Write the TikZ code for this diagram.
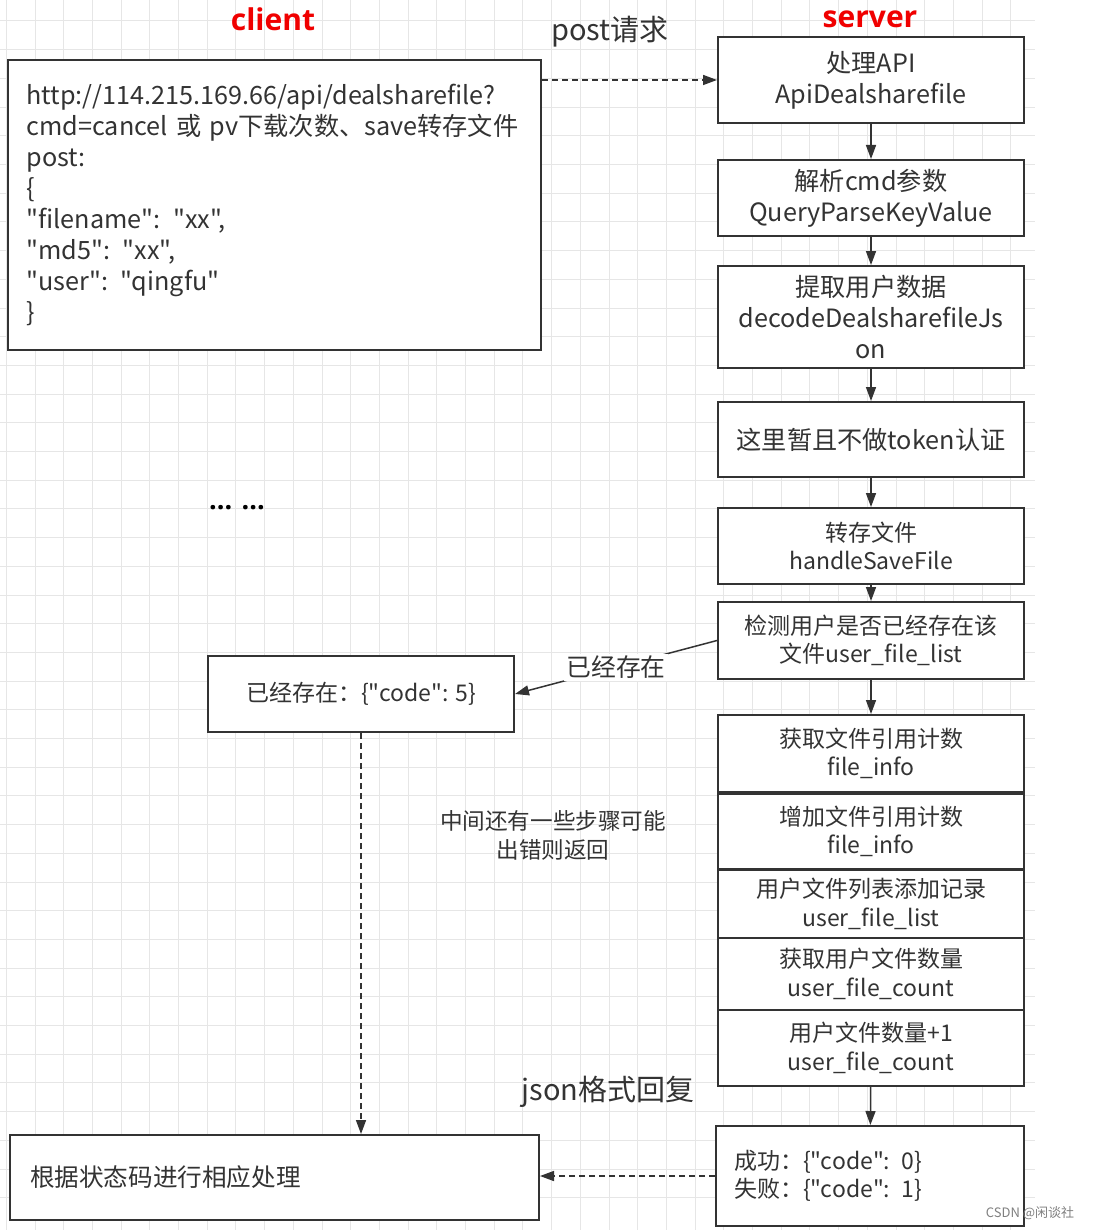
\documentclass[tikz,border=0pt]{standalone}
\usepackage{fontspec}
\usepackage{xcolor}
\usepackage{tikz}
\usetikzlibrary{arrows.meta}
\setmainfont{Noto Sans CJK SC}[Ligatures=TeXOff]
\newfontfamily\headfont{Open Sans}
\definecolor{ink}{HTML}{333333}
\definecolor{gridc}{HTML}{E6E6E6}
\definecolor{headred}{HTML}{F00000}
\newcommand{\dq}{\char34\relax}

\begin{document}
\begin{tikzpicture}[x=0.5pt, y=-0.5pt, line cap=butt, line join=miter,
  box/.style={draw=ink, line width=1pt, fill=white, text=ink, inner sep=0pt},
  srv/.style={box, minimum width=153pt, align=center},
  arr/.style={draw=ink, line width=0.75pt, -{Triangle[length=7pt,width=5pt]}},
  darr/.style={arr, dash pattern=on 3pt off 2pt},
  big/.style={font=\fontsize{12.6pt}{15.5pt}\selectfont},
  mid/.style={font=\fontsize{11.5pt}{14.2pt}\selectfont},
  head/.style={text=headred, font=\headfont\bfseries\fontsize{15pt}{17pt}\selectfont}]

\useasboundingbox (0,0) rectangle (1094,1230);
\fill[white] (0,0) rectangle (1094,1230);

% grid
\foreach \i in {0,...,35}
  \draw[gridc, line width=0.5pt] ({6.3+28.7*\i},0) -- ({6.3+28.7*\i},1230);
\foreach \j in {0,...,42}
  \draw[gridc, line width=0.5pt] (0,{-7.7+28.7*\j}) -- (1035,{-7.7+28.7*\j});

% headings
\node[head] (hclient) at (273,19) {client};
\node[head] (hserver) at (870,19) {server};

% client side
\node[box, big, minimum width=266.5pt, minimum height=145pt, text width=248pt, align=left] (client) at (274.5,205)
  {http://114.215.169.66/api/dealsharefile?\\
   cmd=cancel 或 pv下载次数、save转存文件\\
   post:\\
   \{\\
   \dq filename\dq: \dq xx\dq,\\
   \dq md5\dq: \dq xx\dq,\\
   \dq user\dq: \dq qingfu\dq\\
   \}};

\node[box, mid, minimum width=153pt, minimum height=38pt] (exist) at (361,694) {已经存在：\{\dq code\dq: 5\}};

\node[box, font=\fontsize{12.3pt}{14pt}\selectfont, minimum width=264.5pt, minimum height=42.5pt, text width=244.5pt, align=left] (final) at (274.5,1177.5) {根据状态码进行相应处理};

% server side
\node[srv, big, minimum height=43pt] (s1) at (871,80) {处理API\\ApiDealsharefile};
\node[srv, big, minimum height=38pt] (s2) at (871,198) {解析cmd参数\\QueryParseKeyValue};
\node[srv, big, minimum height=51pt] (s3) at (871,317) {提取用户数据\\decodeDealsharefileJs\\on};
\node[srv, big, minimum height=37.5pt] (s4) at (871,439.5) {这里暂且不做token认证};
\node[srv, mid, minimum height=38pt] (s5) at (871,546) {转存文件\\handleSaveFile};
\node[srv, mid, minimum height=38.5pt] (s6) at (871,640.5) {检测用户是否已经存在该\\文件user\_file\_list};
\node[srv, mid, minimum height=38.5pt] (s7) at (871,753.5) {获取文件引用计数\\file\_info};
\node[srv, mid, minimum height=37.5pt] (s8) at (871,831.5) {增加文件引用计数\\file\_info};
\node[srv, mid, minimum height=34pt] (s9) at (871,904) {用户文件列表添加记录\\user\_file\_list};
\node[srv, mid, minimum height=36pt] (s10) at (871,974) {获取用户文件数量\\user\_file\_count};
\node[srv, mid, minimum height=38pt] (s11) at (871,1048) {用户文件数量+1\\user\_file\_count};
\node[box, mid, minimum width=154pt, minimum height=50pt, text width=136pt, align=left] (s12) at (870,1176)
  {成功：\{\dq code\dq: 0\}\\失败：\{\dq code\dq: 1\}};

% connectors
\draw[arr] (s1) -- (s2);
\draw[arr] (s2) -- (s3);
\draw[arr] (s3) -- (s4);
\draw[arr] (s4) -- (s5);
\draw[arr] (s5) -- (s6);
\draw[arr] (s6) -- (s7);
\draw[arr] (s11) -- (s12);

\draw[darr] (s1.west -| client.east) -- (s1.west);
\draw[arr] (s6.west) -- node[fill=white, text=ink, font=\fontsize{12.4pt}{14pt}\selectfont, inner sep=1pt] (lexist) {已经存在} (exist.east);
\draw[darr] (exist.south) -- (exist.south |- final.north);
\draw[darr] (s12.west) -- (s12.west -| final.east);

% free labels
\node[text=ink, font=\fontsize{14.5pt}{16pt}\selectfont] (lpost) at (610,32) {post请求};
\node[text=ink, font=\fontsize{14.5pt}{16pt}\selectfont] (ljson) at (608,1092) {json格式回复};
\node[text=ink, font=\fontsize{11.3pt}{14.5pt}\selectfont, align=center] (lnote) at (553,835) {中间还有一些步骤可能\\出错则返回};
\node[text=black, font=\headfont\bfseries\fontsize{13.5pt}{15pt}\selectfont] (ldots) at (237,508) {... ...};
\node[text=gray, font=\fontsize{6.5pt}{8pt}\selectfont] (mark) at (1030,1213) {CSDN @闲谈社};

\end{tikzpicture}
\end{document}
